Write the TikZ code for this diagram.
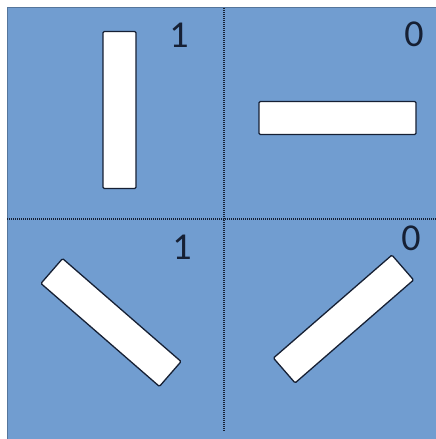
\documentclass[tikz,border=0pt]{standalone}
\usepackage{fontspec}
\setmainfont{Carlito}
\definecolor{bgblue}{RGB}{113,157,208}
\definecolor{inkblue}{RGB}{22,32,52}

\begin{document}
\begin{tikzpicture}[
        x=1pt,
        y=-1pt,
        bar/.style={draw=inkblue, fill=white, line width=1.3pt, rounded corners=1.2pt,
          minimum width=157pt, minimum height=33pt, inner sep=0pt},
        digit/.style={font=\fontsize{38}{40}\selectfont, text=inkblue, inner sep=0pt},
        axisline/.style={inkblue, line width=1.3pt, dash pattern=on 1pt off 1pt}
      ]

      % --- 1. 背景 ---
      \useasboundingbox (0, 0) rectangle (436, 439);
      \fill[bgblue] (7, 7) rectangle (436, 439);
      \draw[bgblue!75!black, line width=0.8pt] (7, 439) -- (7, 7) -- (436, 7);

      % --- 2. 区切り線（点線） ---
      \coordinate (top) at (224, 8);
      \coordinate (bottom) at (224, 431);
      \coordinate (left) at (7, 219);
      \coordinate (right) at (436, 219);
      \draw[axisline] (top) -- (bottom);
      \draw[axisline] (left) -- (right);

      % --- 3. 棒（向きごと） ---
      \node[bar, rotate=90] (barTL) at (119.5, 110) {};
      \node[bar] (barTR) at (337.5, 118) {};
      \node[bar, rotate=-41] (barBL) at (111, 322.5) {};
      \node[bar, rotate=41] (barBR) at (343.5, 319) {};

      % --- 4. 数字ラベル ---
      \node[digit] (labTL) at (179, 35) {1};
      \node[digit] (labTR) at (414, 34) {0};
      \node[digit] (labBL) at (182, 247) {1};
      \node[digit] (labBR) at (411, 238) {0};

    \end{tikzpicture}
\end{document}
